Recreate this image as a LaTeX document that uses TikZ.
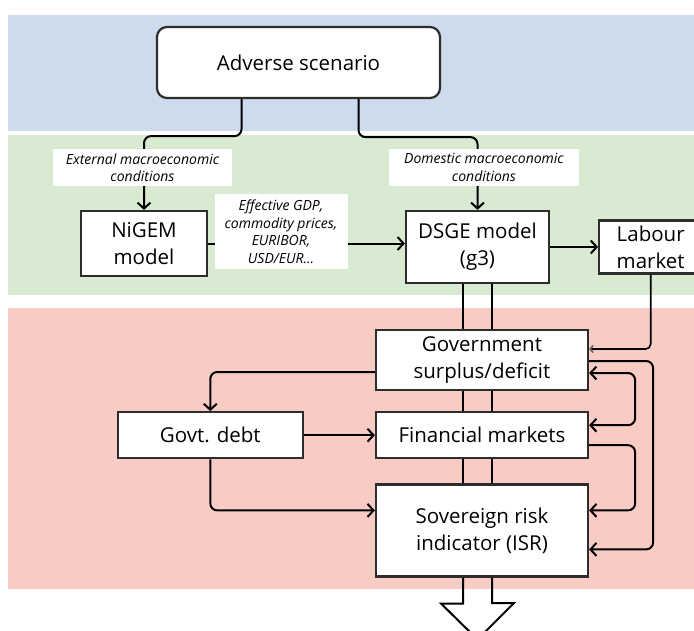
\documentclass[tikz,border=0pt]{standalone}
\usepackage{fontspec}
\setmainfont{Open Sans}
\usetikzlibrary{arrows.meta, positioning}
\definecolor{bandblue}{RGB}{205,219,236}
\definecolor{bandgreen}{RGB}{217,234,211}
\definecolor{bandred}{RGB}{248,204,197}
\definecolor{boxline}{RGB}{45,45,45}

\begin{document}
\begin{tikzpicture}[
      x=1pt, y=-1pt,
      node distance=20pt and 48pt,
      >={Straight Barb[length=6pt,width=13pt]},
      box/.style={draw=boxline, line width=2.2pt, fill=white, inner sep=0pt, align=center, font=\fontsize{20.5}{27}\selectfont},
      lbl/.style={fill=white, inner sep=0pt, align=center, font=\fontsize{14}{17.5}\selectfont\itshape},
      arr/.style={->, line width=2pt, rounded corners=7pt},
      link/.style={line width=2pt},
      thinarr/.style={-{Straight Barb[length=3pt,width=7pt,color=black!60]}, line width=1.6pt, rounded corners=5pt}
    ]
    \useasboundingbox (0,0) rectangle (694,630);
    \fill[bandblue] (8,15) rectangle (694,131);
    \fill[bandgreen] (8,135) rectangle (694,295);
    \fill[bandred] (8,308) rectangle (694,589);

    \node[box, rounded corners=10pt, minimum width=283pt, minimum height=71pt] (adverse) at (298.5,62.5) {Adverse scenario};
    \node[box, minimum width=126pt, minimum height=65pt] (nigem) at (144,243.5) {NiGEM\\model};
    \node[box, minimum width=143pt, minimum height=72pt] (dsge) at (477.5,247) {DSGE model\\(g3)};
    \node[box, minimum width=103pt, minimum height=53pt, right=48pt of dsge] (labour) {Labour\\market};
    \node[box, minimum width=212pt, minimum height=60pt] (govsur) at (482,360) {Government\\surplus/deficit};
    \node[box, minimum width=212pt, minimum height=46pt, below=20pt of govsur] (finmkt) {Financial markets};
    \node[box, minimum width=212pt, minimum height=92pt, below=24pt of finmkt] (isr) {Sovereign risk\\indicator (ISR)};
    \node[box, minimum width=185pt, minimum height=46pt, left=71pt of finmkt] (govdebt) {Govt. debt};
    \coordinate (outtip) at ([yshift=-62pt]isr.south -| dsge.south);

    \draw[arr] ([xshift=-57pt]adverse.south) -- ++(0,37) -| (nigem.north);
    \draw[arr] ([xshift=60pt]adverse.south) -- ++(0,38) -| (dsge.north);
    \draw[arr] (nigem.east) -- (nigem.east -| dsge.west);
    \draw[arr] (dsge.east) -- (labour.west);
    \draw[thinarr] (labour.south) |- ([yshift=11pt]govsur.east);
    \foreach \a/\b in {dsge/govsur, govsur/finmkt, finmkt/isr}
      \foreach \dx in {-14.5,14.5}
        \draw[link] ([xshift=\dx pt]\a.south -| dsge.south) -- ([xshift=\dx pt]\b.north -| dsge.south);
    \draw[link, line join=miter] ([xshift=-14.5pt]isr.south -| outtip) -- ++(0,26) -- ++(-22,0) -- (outtip)
      -- ++(36.5,-36.5) -- ++(-22,0) -- ([xshift=14.5pt]isr.south -| outtip);
    \draw[arr] ([yshift=-12pt]govsur.west) -| (govdebt.north);
    \draw[arr] (govdebt.east) -- (finmkt.west);
    \draw[arr] (govdebt.south) |- ([yshift=20pt]isr.west);
    \draw[arr] ([yshift=-1pt]govsur.east) -- ++(64,0) |- ([yshift=-19pt]isr.east);
    \draw[arr, <->] ([yshift=-13pt]govsur.east) -- ++(46,0) |- ([yshift=10pt]finmkt.east);
    \draw[arr] ([yshift=-10pt]finmkt.east) -- ++(46,0) |- ([yshift=20pt]isr.east);

    \node[lbl, minimum width=179pt, minimum height=37pt] (extlab) at (142.5,167.5) {External macroeconomic\\conditions};
    \node[lbl, minimum width=190pt, minimum height=37pt] (domlab) at (484,167.5) {Domestic macroeconomic\\conditions};
    \node[lbl, minimum width=133pt, minimum height=75pt] (efflab) at (281,231.5) {Effective GDP,\\commodity prices,\\EURIBOR,\\USD/EUR...};
  \end{tikzpicture}
\end{document}
